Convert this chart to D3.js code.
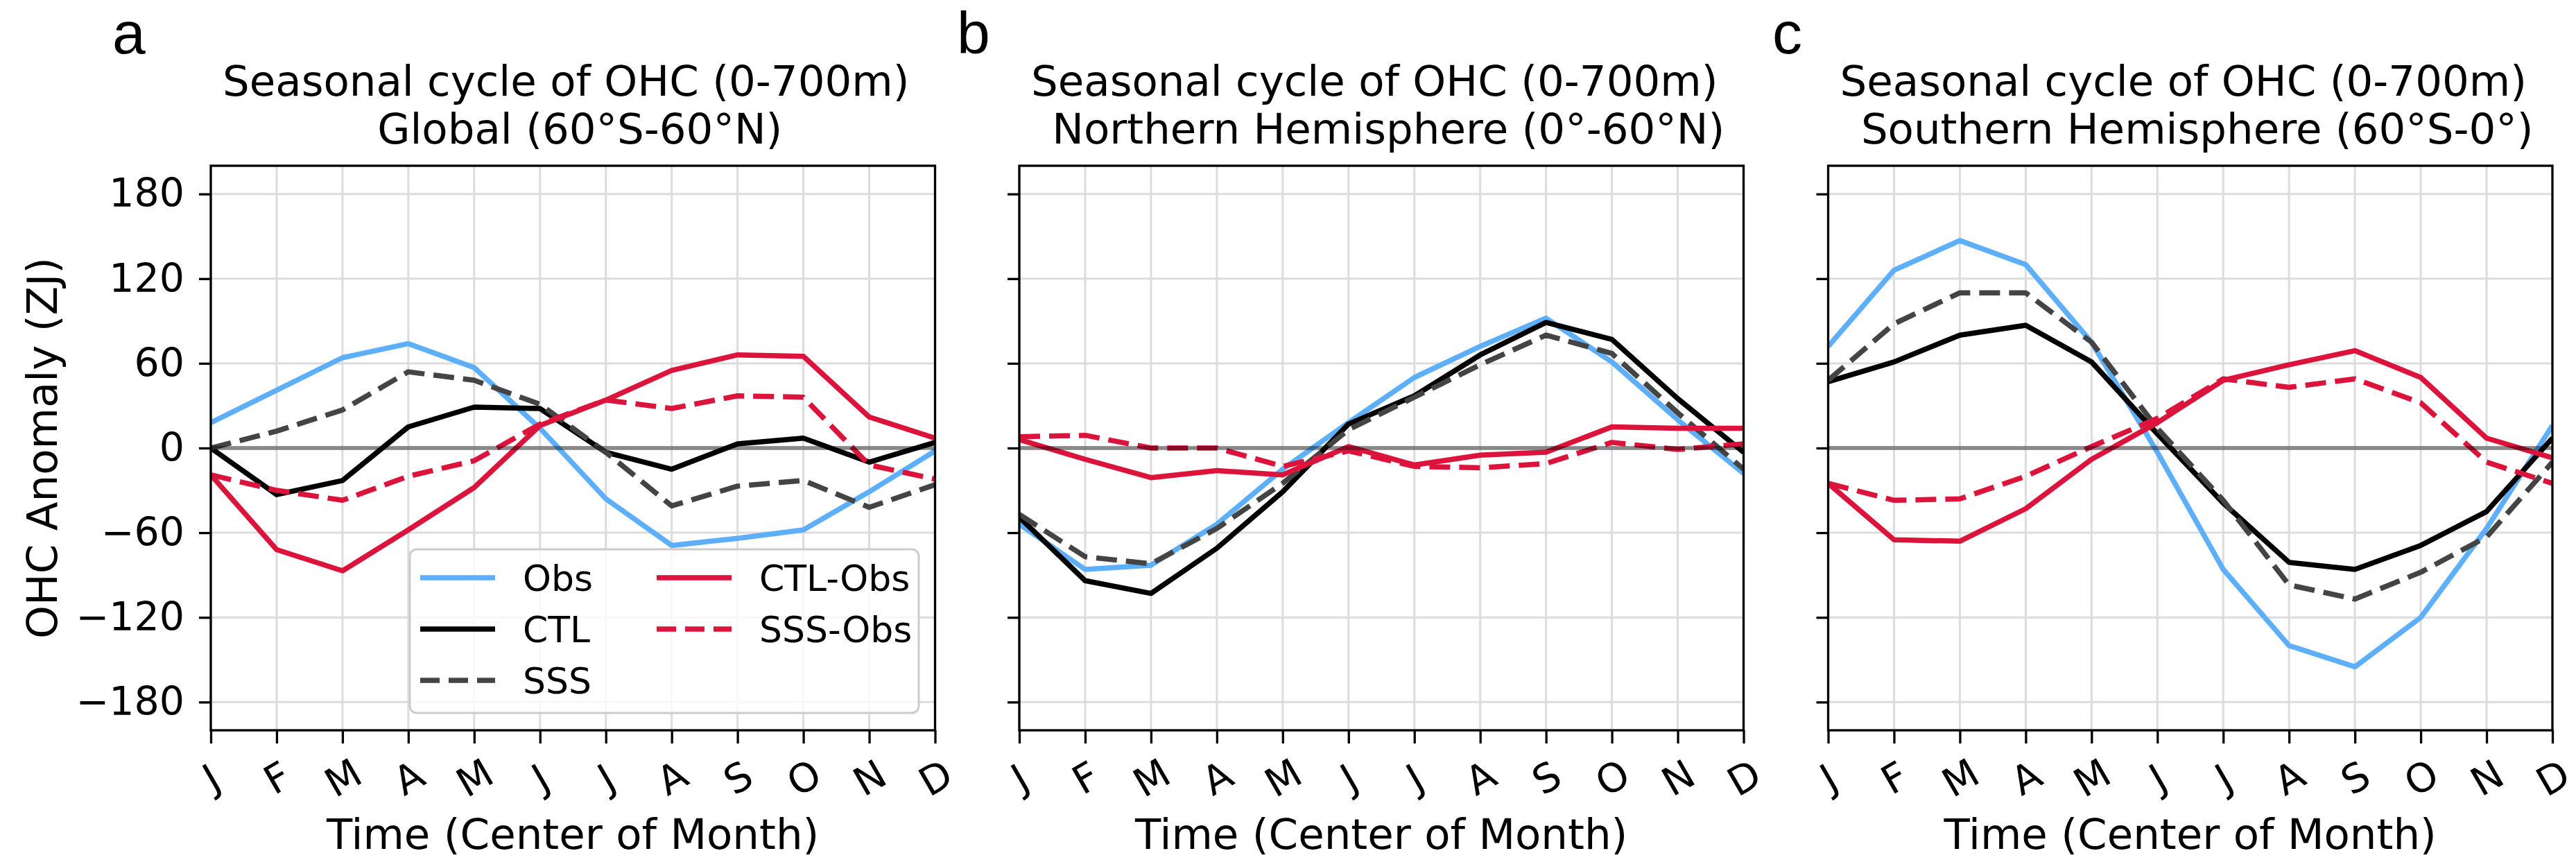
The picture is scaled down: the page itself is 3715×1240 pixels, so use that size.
<!DOCTYPE html>
<html><head><meta charset="utf-8">
<script src="https://cdn.jsdelivr.net/npm/d3@7"></script>
<style>
html,body{margin:0;padding:0;background:#fff;}
svg{display:block;font-family:"DejaVu Sans",sans-serif;}
</style></head>
<body><svg id="chart" width="3715" height="1240"></svg>
<script>
const months = ["J","F","M","A","M","J","J","A","S","O","N","D"];
const yTicks = [-180,-120,-60,0,60,120,180];
const panelLetters = ["a","b","c"];
const titleLine1 = "Seasonal cycle of OHC (0-700m)";
const titleLine2 = ["Global (60°S-60°N)","Northern Hemisphere (0°-60°N)","Southern Hemisphere (60°S-0°)"];
const seriesNames = ["Obs","CTL","SSS","CTL-Obs","SSS-Obs"];

// Panel a: Global
const obsA    = [18, 41, 64, 74, 57, 14, -36, -69, -64, -58, -31, -2];
const ctlA    = [0, -33, -23, 15, 29, 28, -3, -15, 3, 7, -10, 4];
const sssA    = [0, 12, 27, 54, 48, 31, -3, -41, -27, -23, -42, -26];
const ctlObsA = [-19, -72, -87, -58, -28, 16, 34, 55, 66, 65, 22, 7];
const sssObsA = [-19, -30, -37, -20, -9, 17, 34, 28, 37, 36, -12, -22];
// Panel b: Northern Hemisphere
const obsB    = [-54, -86, -83, -54, -15, 18, 50, 72, 92, 61, 20, -18];
const ctlB    = [-49, -94, -103, -71, -31, 17, 37, 66, 89, 77, 35, -3];
const sssB    = [-47, -77, -82, -57, -25, 13, 36, 59, 80, 67, 25, -15];
const ctlObsB = [6, -8, -21, -16, -19, 1, -12, -5, -3, 15, 14, 14];
const sssObsB = [8, 9, 0, 0, -13, -2, -13, -14, -11, 4, -1, 3];
// Panel c: Southern Hemisphere
const obsC    = [72, 126, 147, 130, 75, -3, -86, -140, -155, -120, -57, 16];
const ctlC    = [47, 61, 80, 87, 61, 10, -39, -81, -86, -69, -45, 7];
const sssC    = [48, 88, 110, 110, 75, 14, -37, -97, -107, -88, -63, -10];
const ctlObsC = [-25, -65, -66, -43, -8, 18, 48, 59, 69, 50, 7, -7];
const sssObsC = [-25, -37, -36, -20, 1, 21, 49, 43, 49, 32, -10, -25];

const panelData = [
  [obsA, ctlA, sssA, ctlObsA, sssObsA],
  [obsB, ctlB, sssB, ctlObsB, sssObsB],
  [obsC, ctlC, sssC, ctlObsC, sssObsC]
];

const styles = [
  {color:"#5EAFFA", dash:null},
  {color:"#000000", dash:null},
  {color:"#444444", dash:"30,13"},
  {color:"#DC143C", dash:null},
  {color:"#DC143C", dash:"30,13"}
];

const svg = d3.select("#chart");
const lefts = [304, 1470, 2636.5];
const letterX = [162, 1380, 2556];
const W = 1044.5, plotTop = 239, plotBottom = 1053;
const LW = 7.5;

const y = d3.scaleLinear().domain([-200,200]).range([plotBottom, plotTop]);
const fmt = v => (v < 0 ? "\u2212" + Math.abs(v) : String(v));

panelData.forEach((series, p) => {
  const x = d3.scaleLinear().domain([0, 11]).range([lefts[p], lefts[p] + W]);
  const g = svg.append("g");
  const cx = lefts[p] + W/2;

  // grid
  g.append("g").selectAll("line").data(d3.range(12)).join("line")
    .attr("x1", d => x(d)).attr("x2", d => x(d)).attr("y1", plotTop).attr("y2", plotBottom)
    .attr("stroke", "#dcdcdc").attr("stroke-width", 3);
  g.append("g").selectAll("line").data(yTicks).join("line")
    .attr("x1", lefts[p]).attr("x2", lefts[p] + W).attr("y1", d => y(d)).attr("y2", d => y(d))
    .attr("stroke", "#dcdcdc").attr("stroke-width", 3);

  // lines
  const line = d3.line().x((d, i) => x(i)).y(d => y(d));
  const clipId = "clip" + p;
  svg.append("clipPath").attr("id", clipId).append("rect")
    .attr("x", lefts[p]).attr("y", plotTop).attr("width", W).attr("height", plotBottom - plotTop);
  const lg = g.append("g").attr("clip-path", `url(#${clipId})`);
  series.forEach((s, k) => {
    lg.append("path").datum(s).attr("d", line)
      .attr("fill", "none").attr("stroke", styles[k].color)
      .attr("stroke-width", LW).attr("stroke-linejoin", "round").attr("stroke-linecap", "butt")
      .attr("stroke-dasharray", styles[k].dash);
  });
  // zero line
  lg.append("line").attr("x1", lefts[p]).attr("x2", lefts[p] + W)
    .attr("y1", y(0)).attr("y2", y(0))
    .attr("stroke", "#000").attr("stroke-opacity", 0.4).attr("stroke-width", 6);

  // frame
  g.append("rect").attr("x", lefts[p]).attr("y", plotTop).attr("width", W).attr("height", plotBottom - plotTop)
    .attr("fill", "none").attr("stroke", "#000").attr("stroke-width", 3.3);

  // y axis
  const ya = d3.axisLeft(y).tickValues(yTicks).tickSize(17).tickPadding(21)
    .tickFormat(p === 0 ? fmt : () => "");
  const yg = g.append("g").attr("transform", `translate(${lefts[p]},0)`).call(ya);
  yg.select(".domain").remove();
  yg.selectAll(".tick line").attr("stroke-width", 3.3);
  yg.selectAll(".tick text").attr("font-size", 57).attr("font-family", "DejaVu Sans").attr("fill", "#000");

  // x axis
  const xa = d3.axisBottom(x).tickValues(d3.range(12)).tickSize(19).tickFormat(i => months[i]);
  const xg = g.append("g").attr("transform", `translate(0,${plotBottom})`).call(xa);
  xg.select(".domain").remove();
  xg.selectAll(".tick line").attr("stroke-width", 3.3);
  xg.selectAll(".tick text")
    .attr("font-size", 57).attr("font-family", "DejaVu Sans").attr("fill", "#000")
    .attr("text-anchor", "middle").attr("x", 0).attr("y", 0).attr("dy", "0.36em")
    .attr("transform", `translate(0,68) rotate(-30)`);

  // x label
  g.append("text").attr("x", cx).attr("y", 1224).attr("text-anchor", "middle")
    .attr("font-size", 61).text("Time (Center of Month)");

  // titles
  g.append("text").attr("x", cx - 10).attr("y", 138).attr("text-anchor", "middle")
    .attr("font-size", 61).text(titleLine1);
  g.append("text").attr("x", cx + 10).attr("y", 207).attr("text-anchor", "middle")
    .attr("font-size", 61).text(titleLine2[p]);

  // panel letter
  g.append("text").attr("x", letterX[p]).attr("y", 77)
    .attr("font-family", "Liberation Sans, Arial, sans-serif").attr("font-size", 86).text(panelLetters[p]);

  if (p === 0) {
    g.append("text").attr("transform", `translate(82,${(plotTop + plotBottom)/2}) rotate(-90)`)
      .attr("text-anchor", "middle").attr("font-size", 61).text("OHC Anomaly (ZJ)");

    // legend
    const leg = g.append("g");
    leg.append("rect").attr("x", 591).attr("y", 792).attr("width", 734).attr("height", 236)
      .attr("rx", 10).attr("fill", "#fff").attr("fill-opacity", 0.8)
      .attr("stroke", "#cccccc").attr("stroke-width", 3);
    const pos = [[0,0],[0,1],[0,2],[1,0],[1,1]];
    const colX = [606, 947], rowY = [833, 907, 981];
    seriesNames.forEach((name, k) => {
      const [c, r] = pos[k];
      leg.append("line").attr("x1", colX[c]).attr("x2", colX[c] + 108)
        .attr("y1", rowY[r]).attr("y2", rowY[r])
        .attr("stroke", styles[k].color).attr("stroke-width", LW)
        .attr("stroke-dasharray", styles[k].dash ? "28,13" : null);
      leg.append("text").attr("x", colX[c] + 148).attr("y", rowY[r]).attr("dy", "0.36em")
        .attr("font-size", 52).text(name);
    });
  }
});
</script></body></html>
